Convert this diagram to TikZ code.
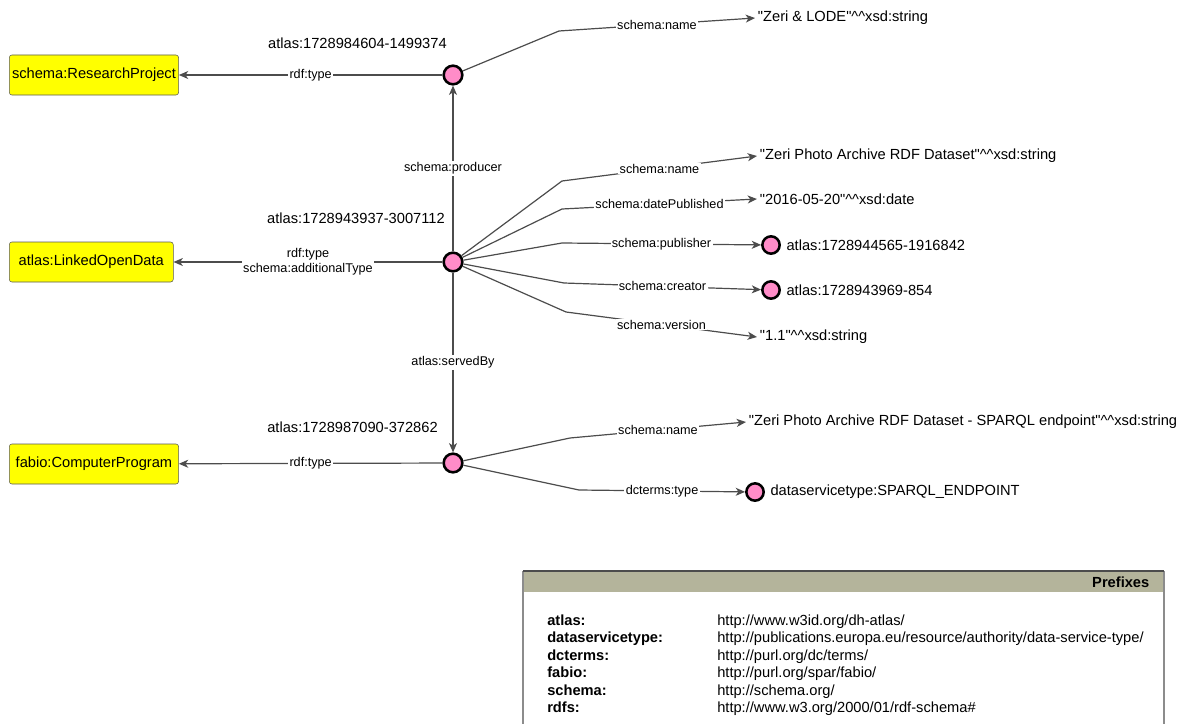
\documentclass[tikz,border=0pt]{standalone}
\usepackage{fontspec}
\setmainfont[Ligatures=TeXOff]{Liberation Sans}
\usetikzlibrary{arrows.meta,positioning}
\definecolor{respink}{RGB}{255,140,200}
\definecolor{classyellow}{RGB}{255,255,0}
\definecolor{headolive}{RGB}{180,180,155}
\newcommand{\dtype}{\textasciicircum\textasciicircum}
\newcommand{\qm}{\symbol{34}}

\begin{document}
\begin{tikzpicture}[
        x=0.75pt, y=-0.75pt,
        every node/.style={
            font=\fontsize{11}{13}\selectfont
        },
        res/.style={
            circle, draw=black, line width=1.9pt,
            fill=respink, minimum size=14pt, inner sep=0pt
        },
        subres/.style={
            res, minimum size=13pt
        },
        cls/.style={
            draw=black!65, fill=classyellow, rounded corners=2pt,
            minimum height=30pt, minimum width=123pt,
            anchor=west, inner xsep=2pt
        },
        lit/.style={
            anchor=west, inner xsep=2pt
        },
        rid/.style={
            anchor=east, inner sep=0pt
        },
        prop/.style={
            draw=black!70, line width=0.9pt,
            -{Stealth[length=7pt,width=6pt,inset=2pt]}
        },
        plab/.style={
            fill=white, inner sep=1pt, align=center,
            font=\fontsize{9.5}{11}\selectfont
        }
    ]
    \useasboundingbox (0,0) rectangle (1177,724);

    % resources
    \node[res] (rp) at (453,75) {};
    \node[res] (lod) at (453,262) {};
    \node[res] (sp) at (453,463) {};
    \node[rid] (rpid) at (447,43) {atlas:1728984604-1499374};
    \node[rid] (lodid) at (445,218) {atlas:1728943937-3007112};
    \node[rid] (spid) at (438,427) {atlas:1728987090-372862};

    % classes
    \node[cls, minimum width=127pt] (rpclass) at (9,75) {schema:ResearchProject};
    \node[cls] (lodclass) at (9,262) {atlas:LinkedOpenData};
    \node[cls, minimum width=127pt] (spclass) at (9,464) {fabio:ComputerProgram};

    \draw[prop] (rp) -- node[plab] {rdf:type} (rpclass);
    \draw[prop] (lod) -- node[plab] {rdf:type\\schema:additionalType} (lodclass);
    \draw[prop] (sp) -- node[plab] {rdf:type} (spclass);
    \draw[prop] (lod) -- node[plab] {schema:producer} (rp);
    \draw[prop] (lod) -- node[plab] {atlas:servedBy} (sp);

    % research project
    \node[lit] (rpname) at (755,18) {\qm Zeri \& LODE\qm\dtype xsd:string};
    \coordinate (rpnamebend) at (559,31);
    \draw[prop] (rp) -- (rpnamebend) -- node[plab] {schema:name} (rpname.west);

    % dataset
    \node[lit] (lodname) at (757,156) {\qm Zeri Photo Archive RDF Dataset\qm\dtype xsd:string};
    \node[lit] (loddate) at (757,199) {\qm 2016-05-20\qm\dtype xsd:date};
    \node[subres] (lodpub) at (771,245) {};
    \node[lit, right=2pt of lodpub] (lodpubid) {atlas:1728944565-1916842};
    \node[subres] (lodcre) at (771,290) {};
    \node[lit, right=2pt of lodcre] (lodcreid) {atlas:1728943969-854};
    \node[lit] (lodver) at (757,337) {\qm 1.1\qm\dtype xsd:string};
    \coordinate (lodnamebend) at (562,181);
    \coordinate (loddatebend) at (562,209);
    \coordinate (lodpubbend) at (562,243);
    \coordinate (lodcrebend) at (564,283);
    \coordinate (lodverbend) at (566,312);
    \draw[prop] (lod) -- (lodnamebend) -- node[plab] {schema:name} (lodname.west);
    \draw[prop] (lod) -- (loddatebend) -- node[plab] {schema:datePublished} (loddate.west);
    \draw[prop] (lod) -- (lodpubbend) -- node[plab] {schema:publisher} (lodpub);
    \draw[prop] (lod) -- (lodcrebend) -- node[plab] {schema:creator} (lodcre);
    \draw[prop] (lod) -- (lodverbend) -- node[plab] {schema:version} (lodver.west);

    % sparql endpoint
    \node[lit] (spname) at (746,422) {\qm Zeri Photo Archive RDF Dataset - SPARQL endpoint\qm\dtype xsd:string};
    \node[subres] (sptype) at (755,492) {};
    \node[lit, right=2pt of sptype] (sptypeid) {dataservicetype:SPARQL\_ENDPOINT};
    \coordinate (spnamebend) at (570,438);
    \coordinate (sptypebend) at (579,490);
    \draw[prop] (sp) -- (spnamebend) -- node[plab] {schema:name} (spname.west);
    \draw[prop] (sp) -- (sptypebend) -- node[plab] {dcterms:type} (sptype);

    % prefixes
    \fill[white] (523,571) rectangle (1164,724);
    \fill[headolive] (523,571) rectangle (1164,592);
    \draw[black!45, line width=1.5pt] (523,724) -- (523,571);
    \draw[black!45, line width=1pt] (1164,571) -- (1164,724);
    \draw[black!70, line width=1.5pt] (523,571) -- (1164,571);
    \node[anchor=east, font=\fontsize{11}{13}\selectfont\bfseries] (pfxhead) at (1154,582) {Prefixes};
    \foreach \pfx/\uri [count=\i] in {
        {atlas:}/{http://www.w3id.org/dh-atlas/},
        {dataservicetype:}/{http://publications.europa.eu/resource/authority/data-service-type/},
        {dcterms:}/{http://purl.org/dc/terms/},
        {fabio:}/{http://purl.org/spar/fabio/},
        {schema:}/{http://schema.org/},
        {rdfs:}/{http://www.w3.org/2000/01/rdf-schema\#}} {
        \node[anchor=base west, inner sep=0pt, font=\fontsize{11}{13}\selectfont\bfseries] (pfx\i) at (547,608+17.4*\i) {\pfx};
        \node[anchor=base west, inner sep=0pt] (uri\i) at (717,608+17.4*\i) {\uri};
    }
\end{tikzpicture}
\end{document}
